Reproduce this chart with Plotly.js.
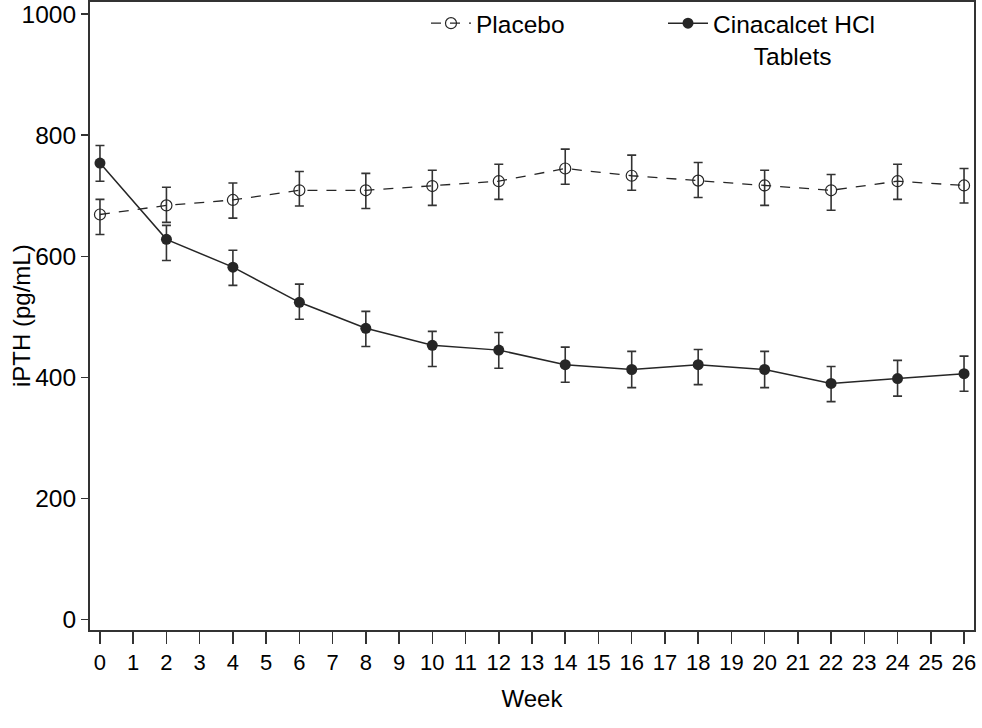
<!DOCTYPE html>
<html>
<head>
<meta charset="utf-8">
<script src="https://cdn.plot.ly/plotly-3.0.1.min.js"></script>
<style>html,body{margin:0;padding:0;background:#fff;}#chart{width:982px;height:728px;}</style>
</head>
<body>
<div id="chart"></div>
<script>
var weeks = [0, 2, 4, 6, 8, 10, 12, 14, 16, 18, 20, 22, 24, 26];
var tickWeeks = [0,1,2,3,4,5,6,7,8,9,10,11,12,13,14,15,16,17,18,19,20,21,22,23,24,25,26];
var yTicks = [0, 200, 400, 600, 800, 1000];
var yTitle = 'iPTH (pg/mL)';
var xTitle = 'Week';

var placeboMean  = [669, 684, 693, 709, 709, 716, 724, 745, 733, 725, 717, 709, 724, 717];
var placeboUpper = [694, 714, 721, 740, 737, 742, 752, 777, 767, 755, 742, 735, 752, 745];
var placeboLower = [636, 656, 663, 683, 679, 684, 694, 719, 709, 697, 684, 676, 694, 688];

var cinaMean  = [754, 628, 582, 524, 481, 453, 445, 421, 413, 421, 413, 390, 398, 406];
var cinaUpper = [783, 651, 610, 554, 509, 476, 474, 450, 443, 446, 443, 418, 428, 435];
var cinaLower = [724, 593, 552, 496, 451, 418, 415, 392, 383, 388, 383, 360, 369, 377];

function diff(a, b) { return a.map(function (v, i) { return Math.abs(v - b[i]); }); }

var FONT = 'Liberation Sans, Arial, Helvetica, sans-serif';
var INK = '#262626';

var placebo = {
  x: weeks, y: placeboMean, name: 'Placebo', type: 'scatter', mode: 'lines+markers',
  line: {color: INK, width: 1.3, dash: '10px,9px'},
  marker: {symbol: 'circle-open', size: 11, color: INK, line: {width: 1.2, color: INK}},
  error_y: {type: 'data', symmetric: false, array: diff(placeboUpper, placeboMean),
            arrayminus: diff(placeboMean, placeboLower), color: '#333', thickness: 1.6, width: 4.5}
};
var cina = {
  x: weeks, y: cinaMean, name: 'Cinacalcet HCl<br>\u00a0\u00a0\u00a0\u00a0\u00a0\u00a0Tablets', type: 'scatter', mode: 'lines+markers',
  line: {color: INK, width: 1.5},
  marker: {symbol: 'circle', size: 11, color: INK},
  error_y: {type: 'data', symmetric: false, array: diff(cinaUpper, cinaMean),
            arrayminus: diff(cinaMean, cinaLower), color: '#333', thickness: 1.6, width: 4.5}
};

var layout = {
  width: 982, height: 728,
  margin: {l: 90, r: 8, t: 2, b: 98, autoexpand: false},
  paper_bgcolor: '#fff', plot_bgcolor: '#fff',
  font: {family: FONT, size: 23, color: '#000'},
  showlegend: true,
  legend: {orientation: 'h', x: (426 - 90) / 884, xanchor: 'left', y: 1.002, yanchor: 'top',
           valign: 'top', entrywidth: 182, entrywidthmode: 'pixels', itemwidth: 40,
           font: {family: FONT, size: 24.5, color: '#000'}, bgcolor: 'rgba(0,0,0,0)', traceorder: 'normal'},
  xaxis: {
    range: [-0.3, 26.3], tickmode: 'array', tickvals: tickWeeks, ticktext: tickWeeks.map(String),
    showgrid: false, zeroline: false, showline: true, mirror: true, linecolor: '#333', linewidth: 2,
    ticks: 'outside', ticklen: 12, tickwidth: 1.5, tickcolor: '#333',
    tickfont: {family: FONT, size: 22, color: '#000'},
    title: {text: xTitle, font: {family: FONT, size: 24, color: '#000'}, standoff: 16}
  },
  yaxis: {
    range: [-17.3, 1020], tickmode: 'array', tickvals: yTicks, ticktext: yTicks.map(String),
    showgrid: false, zeroline: false, showline: true, mirror: true, linecolor: '#333', linewidth: 2,
    ticks: 'outside', ticklen: 7, tickwidth: 1.5, tickcolor: '#333',
    tickfont: {family: FONT, size: 24.5, color: '#000'}
  },
  annotations: [{
    text: yTitle, xref: 'paper', yref: 'paper', x: (21 - 90) / 884, y: 0.5,
    xanchor: 'center', yanchor: 'middle', textangle: -90, showarrow: false,
    font: {family: FONT, size: 24, color: '#000'}
  }]
};

Plotly.newPlot('chart', [placebo, cina], layout, {staticPlot: true, displayModeBar: false});
</script>
</body>
</html>
